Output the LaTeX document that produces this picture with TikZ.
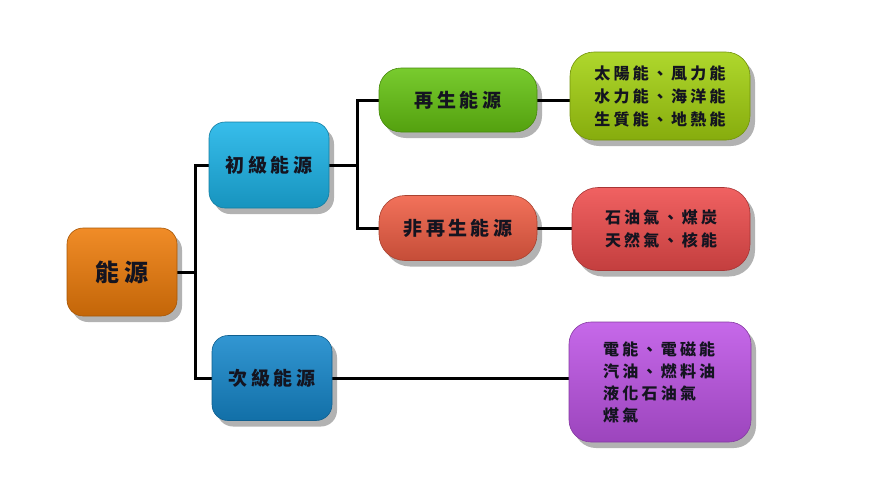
\documentclass[tikz,border=0pt]{standalone}
\usepackage{fontspec}
\usetikzlibrary{shadows,backgrounds}
\newfontfamily\cjkA[LetterSpace=18]{Noto Sans CJK TC}
\newfontfamily\cjkB[LetterSpace=20]{Noto Sans CJK TC}
\definecolor{cOrange}{HTML}{EE7C0A}
\definecolor{cCyan}{HTML}{1CB4E8}
\definecolor{cBlue}{HTML}{1688CC}
\definecolor{cGreen}{HTML}{66C412}
\definecolor{cSalmon}{HTML}{F05E44}
\definecolor{cLime}{HTML}{A4D210}
\definecolor{cRed}{HTML}{EE4C4C}
\definecolor{cPurple}{HTML}{BE54E6}
\definecolor{cText}{HTML}{141420}
\tikzset{
  gbox/.style={rounded corners=#1, text=cText, inner sep=0pt,
    drop shadow={shadow xshift=5pt, shadow yshift=-6pt, opacity=0.3, fill=black}},
  gbox/.default=16pt,
  shade3d/.style={top color=#1!88!white, middle color=#1, bottom color=#1!82!black, draw=#1!70!black, line width=0.6pt},
  conn/.style={line width=3pt, draw=black}
}
\begin{document}
\begin{tikzpicture}[x=1pt,y=-1pt]
\useasboundingbox (0,0) rectangle (869,496);
\node[gbox, shade3d=cOrange, minimum width=110pt, minimum height=88pt, font=\cjkA\bfseries\fontsize{24}{28}\selectfont] (n0) at (122,272) {能源};
\node[gbox, shade3d=cCyan, minimum width=120pt, minimum height=86pt, font=\cjkA\bfseries\fontsize{19}{23}\selectfont] (n1) at (269,165) {初級能源};
\node[gbox, shade3d=cBlue, minimum width=120pt, minimum height=85pt, font=\cjkA\bfseries\fontsize{19}{23}\selectfont] (n2) at (272,378) {次級能源};
\node[gbox=22pt, shade3d=cGreen, minimum width=158pt, minimum height=64pt, font=\cjkA\bfseries\fontsize{19}{23}\selectfont] (n3) at (458,100) {再生能源};
\node[gbox=26pt, shade3d=cSalmon, minimum width=158pt, minimum height=65pt, font=\cjkA\bfseries\fontsize{19}{23}\selectfont] (n4) at (458,228) {非再生能源};
\node[gbox=24pt, shade3d=cLime, minimum width=180pt, minimum height=88pt, align=left, font=\cjkB\bfseries\fontsize{16}{23}\selectfont] (n5) at (660,96) {太陽能、風力能\\水力能、海洋能\\生質能、地熱能};
\node[gbox=26pt, shade3d=cRed, minimum width=178pt, minimum height=83pt, align=left, font=\cjkB\bfseries\fontsize{16}{23}\selectfont] (n6) at (661,229) {石油氣、煤炭\\天然氣、核能};
\node[gbox=22pt, shade3d=cPurple, minimum width=182pt, minimum height=120pt] (n7) at (660,382) {};
\node[text=cText, anchor=west, align=left, inner sep=0pt, font=\cjkB\bfseries\fontsize{16}{22}\selectfont] (n7t) at (603,382) {電能、電磁能\\汽油、燃料油\\液化石油氣\\煤氣};
\begin{scope}[on background layer]
\draw[conn] (n0.east) -- ++(18,0) coordinate (j0);
\draw[conn] (j0) |- (n1.west);
\draw[conn] (j0) |- (n2.west);
\draw[conn] (n1.east) -- ++(28,0) coordinate (j1);
\draw[conn] (j1) |- (n3.west);
\draw[conn] (j1) |- (n4.west);
\draw[conn] (n3.east) -- (n5.west |- n3.east);
\draw[conn] (n4.east) -- (n6.west |- n4.east);
\draw[conn] (n2.east) -- (n7.west |- n2.east);
\end{scope}
\end{tikzpicture}
\end{document}
